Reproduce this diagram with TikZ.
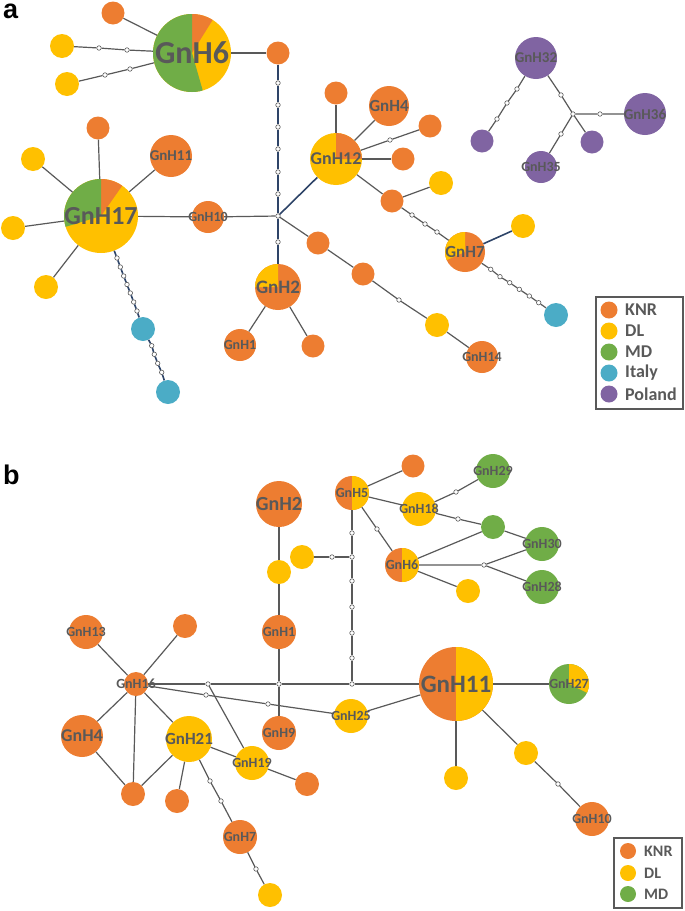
\documentclass[tikz,border=0pt]{standalone}
\usepackage{fontspec}
\setmainfont{Carlito}
\newfontfamily\panelfont{Liberation Sans}
\definecolor{knr}{HTML}{ED7D31}
\definecolor{dl}{HTML}{FFC000}
\definecolor{md}{HTML}{70AD47}
\definecolor{ita}{HTML}{4BACC6}
\definecolor{pol}{HTML}{8064A2}
\definecolor{linegray}{HTML}{595959}
\definecolor{labgray}{HTML}{595959}
\definecolor{navyline}{HTML}{2E4468}
\tikzset{
  hap/.style={circle, inner sep=0pt, minimum size=#1pt},
  mut/.style={circle, draw=linegray, fill=white, inner sep=0pt, minimum size=4.5pt, line width=0.6pt},
  lab/.style={font=\bfseries\fontsize{#1}{#1}\selectfont, text=labgray, inner sep=0pt},
  link/.style={draw=linegray, line width=1.2pt},
  navylink/.style={draw=navyline, line width=1.6pt},
  leg/.style={circle, inner sep=0pt, minimum size=#1pt},
  legtext/.style={anchor=west, inner sep=0pt, text=labgray, font=\bfseries\fontsize{#1}{#1}\selectfont},
  panel/.style={anchor=base west, inner sep=0pt, text height=15pt, font=\panelfont\bfseries\fontsize{27}{27}\selectfont}
}
% one coloured wedge of a pie node, clipped by the node's circle
\newcommand{\slice}[3]{\fill[#1] (path picture bounding box.center) -- ++(#2:60) arc[start angle=#2, end angle=#3, radius=60] -- cycle;}

\begin{document}
\begin{tikzpicture}[x=1pt, y=1pt]
\useasboundingbox (0,0) rectangle (685,-911);

% ---------------- panel a ----------------
\node[panel] (pa) at (3,-18) {a};

% GnH6 and its satellites
\node[hap=78, fill=dl, path picture={\slice{knr}{58}{90}\slice{md}{90}{286}}, label={[lab=32]center:GnH6}] (h6) at (192,-53) {};
\node[hap=23, fill=knr] (a6o) at (113,-13) {};
\node[hap=24, fill=dl] (a6y1) at (62,-46) {};
\node[hap=24, fill=dl] (a6y2) at (67,-84) {};
\node[hap=23, fill=knr] (a6r) at (278,-53) {};
\node[mut] (ma1) at (99,-48) {};
\node[mut] (ma2) at (127,-50) {};
\node[mut] (mb1) at (105,-75) {};
\node[mut] (mb2) at (130,-69) {};

% vertical chain down to GnH2
\node[mut] (mv1) at (278,-83) {};
\node[mut] (mv2) at (278,-105) {};
\node[mut] (mv3) at (278,-127) {};
\node[mut] (mv4) at (278,-149) {};
\node[mut] (mv5) at (278,-172) {};
\node[mut] (mv6) at (278,-194) {};
\node[mut] (ja) at (278,-216) {};
\node[mut] (mv7) at (278,-242) {};
\node[hap=46, fill=knr, path picture={\slice{dl}{90}{180}}, label={[lab=19]center:GnH2}] (h2a) at (278,-287) {};
\node[hap=32, fill=knr, label={[lab=14]center:GnH1}] (h1a) at (240,-345) {};
\node[hap=23, fill=knr] (a2o) at (313,-346) {};

% GnH17 and its satellites
\node[hap=74, fill=dl, path picture={\slice{knr}{55}{90}\slice{md}{90}{197}}, label={[lab=26]center:GnH17}] (h17) at (101,-216) {};
\node[hap=23, fill=knr] (a17o) at (98,-128) {};
\node[hap=42, fill=knr, label={[lab=15]center:GnH11}] (h11a) at (171,-156) {};
\node[hap=24, fill=dl] (a17y1) at (33,-159) {};
\node[hap=24, fill=dl] (a17y2) at (13,-228) {};
\node[hap=24, fill=dl] (a17y3) at (46,-287) {};
\node[hap=32, fill=knr, label={[lab=14]center:GnH10}] (h10a) at (208,-217) {};

% Italy chain from GnH17
\node[mut] (mi1) at (117,-258) {};
\node[mut] (mi2) at (120.3,-267) {};
\node[mut] (mi3) at (123.7,-276) {};
\node[mut] (mi4) at (127,-284.5) {};
\node[mut] (mi5) at (130.3,-293) {};
\node[mut] (mi6) at (133.7,-302) {};
\node[mut] (mi7) at (137,-311) {};
\node[hap=24, fill=ita] (it1) at (143,-329) {};
\node[mut] (mj1) at (151.7,-345.7) {};
\node[mut] (mj2) at (154.3,-354.3) {};
\node[mut] (mj3) at (157.7,-363.3) {};
\node[mut] (mj4) at (161.7,-372.3) {};
\node[hap=24, fill=ita] (it2) at (168,-392) {};

% GnH12 group
\node[hap=52, fill=dl, path picture={\slice{knr}{0}{90}}, label={[lab=18]center:GnH12}] (h12) at (336,-159) {};
\node[hap=23, fill=knr] (a12o1) at (336,-93) {};
\node[hap=40, fill=knr, label={[lab=17]center:GnH4}] (h4a) at (389,-106) {};
\node[mut] (mc1) at (390,-140) {};
\node[hap=23, fill=knr] (a12o2) at (430,-126) {};
\node[hap=23, fill=knr] (a12o3) at (403,-159) {};
\node[hap=23, fill=knr] (a12o4) at (392,-201) {};
\node[hap=24, fill=dl] (a12y) at (441,-183) {};
\node[mut] (md1) at (412,-215) {};
\node[mut] (md2) at (425,-224) {};
\node[mut] (md3) at (437,-232) {};
\node[hap=40, fill=knr, path picture={\slice{dl}{90}{204}}, label={[lab=17]center:GnH7}] (h7a) at (465,-252) {};
\node[hap=24, fill=dl] (a7y) at (523,-226) {};
\node[mut] (mk1) at (490.7,-269.3) {};
\node[mut] (mk2) at (500,-276.7) {};
\node[mut] (mk3) at (509.7,-282.7) {};
\node[mut] (mk4) at (519.3,-289.3) {};
\node[mut] (mk5) at (529.3,-296) {};
\node[mut] (mk6) at (538.7,-302.7) {};
\node[hap=24, fill=ita] (it3) at (556,-315) {};

% branch to GnH14
\node[hap=23, fill=knr] (a14o1) at (318,-243) {};
\node[hap=23, fill=knr] (a14o2) at (363,-274) {};
\node[mut] (me1) at (399,-300) {};
\node[hap=24, fill=dl] (a14y) at (437,-325) {};
\node[hap=32, fill=knr, label={[lab=14]center:GnH14}] (h14) at (482,-357) {};

% Poland cluster
\node[hap=42, fill=pol, label={[lab=15]center:GnH32}] (h32) at (536,-58) {};
\node[hap=23, fill=pol] (p1) at (482,-141) {};
\node[mut] (mp1) at (517,-89) {};
\node[mut] (mp2) at (507,-103) {};
\node[mut] (mp3) at (497,-119) {};
\node[mut] (mp4) at (561,-95) {};
\node[mut] (jp) at (573,-114) {};
\node[mut] (mp5) at (600,-114) {};
\node[hap=42, fill=pol, label={[lab=15]center:GnH36}] (h36) at (645,-114) {};
\node[hap=23, fill=pol] (p2) at (592,-142) {};
\node[mut] (mp6) at (561,-134) {};
\node[hap=32, fill=pol, label={[lab=14]center:GnH35}] (h35) at (541,-167) {};

% connectors, panel a
\draw[link] (h6) -- (a6o);
\draw[link] (h6) -- (ma2) -- (ma1) -- (a6y1);
\draw[link] (h6) -- (mb2) -- (mb1) -- (a6y2);
\draw[link] (h6) -- (a6r);
\draw[navylink] (a6r) -- (mv1) -- (mv2) -- (mv3) -- (mv4) -- (mv5) -- (mv6) -- (ja) -- (mv7) -- (h2a);
\draw[link] (h2a) -- (h1a);
\draw[link] (h2a) -- (a2o);
\draw[link] (h17) -- (a17o);
\draw[link] (h17) -- (h11a);
\draw[link] (h17) -- (a17y1);
\draw[link] (h17) -- (a17y2);
\draw[link] (h17) -- (a17y3);
\draw[link] (h17) -- (h10a) -- (ja);
\draw[navylink] (h17) -- (mi1) -- (mi2) -- (mi3) -- (mi4) -- (mi5) -- (mi6) -- (mi7) -- (it1);
\draw[navylink] (it1) -- (mj1) -- (mj2) -- (mj3) -- (mj4) -- (it2);
\draw[navylink] (ja) -- (h12);
\draw[link] (h12) -- (a12o1);
\draw[link] (h12) -- (h4a);
\draw[link] (h12) -- (mc1) -- (a12o2);
\draw[link] (h12) -- (a12o3);
\draw[link] (h12) -- (a12o4);
\draw[link] (a12o4) -- (a12y);
\draw[link] (a12o4) -- (md1) -- (md2) -- (md3) -- (h7a);
\draw[navylink] (h7a) -- (a7y);
\draw[link] (h7a) -- (mk1) -- (mk2) -- (mk3) -- (mk4) -- (mk5) -- (mk6) -- (it3);
\draw[link] (ja) -- (a14o1) -- (a14o2) -- (me1) -- (a14y) -- (h14);
\draw[link] (h32) -- (mp1) -- (mp2) -- (mp3) -- (p1);
\draw[link] (h32) -- (mp4) -- (jp) -- (mp5) -- (h36);
\draw[link] (jp) -- (p2);
\draw[link] (jp) -- (mp6) -- (h35);

% legend a
\draw[linegray, line width=1.2pt] (596,-297) rectangle (683,-409);
\node[leg=17, fill=knr] (la1) at (609,-310) {};
\node[leg=17, fill=dl] (la2) at (609,-331) {};
\node[leg=17, fill=md] (la3) at (609,-352) {};
\node[leg=17, fill=ita] (la4) at (609,-373) {};
\node[leg=17, fill=pol] (la5) at (609,-394) {};
\node[legtext=18] (ta1) at (625,-310) {KNR};
\node[legtext=18] (ta2) at (625,-331) {DL};
\node[legtext=18] (ta3) at (625,-352) {MD};
\node[legtext=18] (ta4) at (625,-373) {Italy};
\node[legtext=18] (ta5) at (625,-394) {Poland};

% ---------------- panel b ----------------
\node[panel] (pb) at (3,-484) {b};

% upper centre
\node[hap=46, fill=knr, label={[lab=20]center:GnH2}] (h2b) at (279,-504) {};
\node[hap=24, fill=dl] (b2y) at (279,-572) {};
\node[hap=34, fill=knr, label={[lab=14]center:GnH1}] (h1b) at (279,-632) {};
\node[mut] (jb2) at (279,-684) {};
\node[hap=34, fill=knr, label={[lab=14]center:GnH9}] (h9) at (279,-733) {};
\node[hap=34, fill=knr, path picture={\slice{dl}{-90}{90}}, label={[lab=14]center:GnH5}] (h5) at (352,-493) {};
\node[mut] (mf1) at (352,-533) {};
\node[mut] (jb1) at (352,-557) {};
\node[mut] (mf2) at (352,-581) {};
\node[mut] (mf3) at (352,-607) {};
\node[mut] (mf4) at (352,-633) {};
\node[mut] (mf5) at (352,-658) {};
\node[mut] (jb3) at (352,-684) {};
\node[hap=24, fill=dl] (b5y) at (302,-557) {};
\node[mut] (mg1) at (332,-557) {};
\node[hap=23, fill=knr] (b5o) at (413,-466) {};
\node[hap=34, fill=dl, label={[lab=14]center:GnH18}] (h18) at (419,-509) {};
\node[mut] (mh1) at (456,-492) {};
\node[hap=34, fill=md, label={[lab=14]center:GnH29}] (h29) at (493,-471) {};
\node[mut] (mh2) at (458,-519) {};
\node[hap=24, fill=md] (b18g) at (493,-527) {};
\node[hap=34, fill=md, label={[lab=14]center:GnH30}] (h30) at (542,-544) {};
\node[mut] (mh3) at (377,-529) {};
\node[hap=34, fill=knr, path picture={\slice{dl}{-90}{90}}, label={[lab=14]center:GnH6}] (h6b) at (402,-565) {};
\node[mut] (jb4) at (484,-565) {};
\node[hap=34, fill=md, label={[lab=14]center:GnH28}] (h28) at (542,-587) {};
\node[hap=24, fill=dl] (b6y) at (468,-591) {};

% GnH11 and the right side
\node[hap=74, fill=knr, path picture={\slice{dl}{-90}{90}}, label={[lab=25]center:GnH11}] (h11b) at (456,-684) {};
\node[hap=40, fill=md, path picture={\slice{dl}{-26}{90}}, label={[lab=14]center:GnH27}] (h27) at (569,-684) {};
\node[hap=24, fill=dl] (b11y1) at (456,-778) {};
\node[hap=24, fill=dl] (b11y2) at (526,-753) {};
\node[mut] (ms1) at (558,-784) {};
\node[hap=34, fill=knr, label={[lab=14]center:GnH10}] (h10b) at (592,-819) {};

% GnH16 star and lower left
\node[hap=24, fill=knr, label={[lab=14]center:GnH16}] (h16) at (136,-684) {};
\node[mut] (mn1) at (208,-684) {};
\node[mut] (mq1) at (206,-695) {};
\node[mut] (mq2) at (268,-704) {};
\node[hap=34, fill=dl, label={[lab=14]center:GnH25}] (h25) at (351,-716) {};
\node[hap=34, fill=knr, label={[lab=14]center:GnH13}] (h13) at (86,-632) {};
\node[hap=24, fill=knr] (b16o) at (185,-626) {};
\node[hap=42, fill=knr, label={[lab=18]center:GnH4}] (h4b) at (82,-736) {};
\node[hap=46, fill=dl, label={[lab=17]center:GnH21}] (h21) at (189,-739) {};
\node[hap=34, fill=dl, label={[lab=14]center:GnH19}] (h19) at (252,-763) {};
\node[hap=24, fill=knr] (b19o) at (307,-784) {};
\node[hap=24, fill=knr] (b16o2) at (133,-794) {};
\node[hap=24, fill=knr] (b21o) at (177,-801) {};
\node[mut] (mr1) at (210,-781) {};
\node[mut] (mr2) at (221,-801) {};
\node[hap=34, fill=knr, label={[lab=14]center:GnH7}] (h7b) at (240,-837) {};
\node[mut] (mr3) at (256,-869) {};
\node[hap=24, fill=dl] (b7y) at (270,-895) {};

% connectors, panel b
\draw[link] (h2b) -- (b2y) -- (h1b) -- (jb2) -- (h9);
\draw[link] (h5) -- (mf1) -- (jb1) -- (mf2) -- (mf3) -- (mf4) -- (mf5) -- (jb3);
\draw[link] (b5y) -- (mg1) -- (jb1);
\draw[link] (h5) -- (b5o);
\draw[link] (h5) -- (h18);
\draw[link] (h18) -- (mh1) -- (h29);
\draw[link] (h18) -- (mh2) -- (b18g);
\draw[link] (b18g) -- (h30);
\draw[link] (h5) -- (mh3) -- (h6b);
\draw[link] (h6b) -- (b18g);
\draw[link] (h6b) -- (jb4) -- (h30);
\draw[link] (jb4) -- (h28);
\draw[link] (h6b) -- (b6y);
\draw[link] (h16) -- (mn1) -- (jb2) -- (jb3) -- (h11b);
\draw[link] (h16) -- (mq1) -- (mq2) -- (h25) -- (h11b);
\draw[link] (h11b) -- (h27);
\draw[link] (h11b) -- (b11y1);
\draw[link] (h11b) -- (b11y2) -- (ms1) -- (h10b);
\draw[link] (h16) -- (h13);
\draw[link] (h16) -- (b16o);
\draw[link] (h16) -- (h4b);
\draw[link] (h16) -- (h21);
\draw[link] (h16) -- (b16o2);
\draw[link] (h4b) -- (b16o2);
\draw[link] (h21) -- (b16o2);
\draw[link] (mn1) -- (h19);
\draw[link] (h21) -- (h19) -- (b19o);
\draw[link] (h21) -- (b21o);
\draw[link] (h21) -- (mr1) -- (mr2) -- (h7b) -- (mr3) -- (b7y);

% legend b
\draw[linegray, line width=1.2pt] (614,-838) rectangle (682,-908);
\node[leg=16, fill=knr] (lb1) at (628,-851) {};
\node[leg=16, fill=dl] (lb2) at (628,-873) {};
\node[leg=16, fill=md] (lb3) at (628,-894) {};
\node[legtext=16] (tb1) at (644,-851) {KNR};
\node[legtext=16] (tb2) at (644,-873) {DL};
\node[legtext=16] (tb3) at (644,-894) {MD};
\end{tikzpicture}
\end{document}
